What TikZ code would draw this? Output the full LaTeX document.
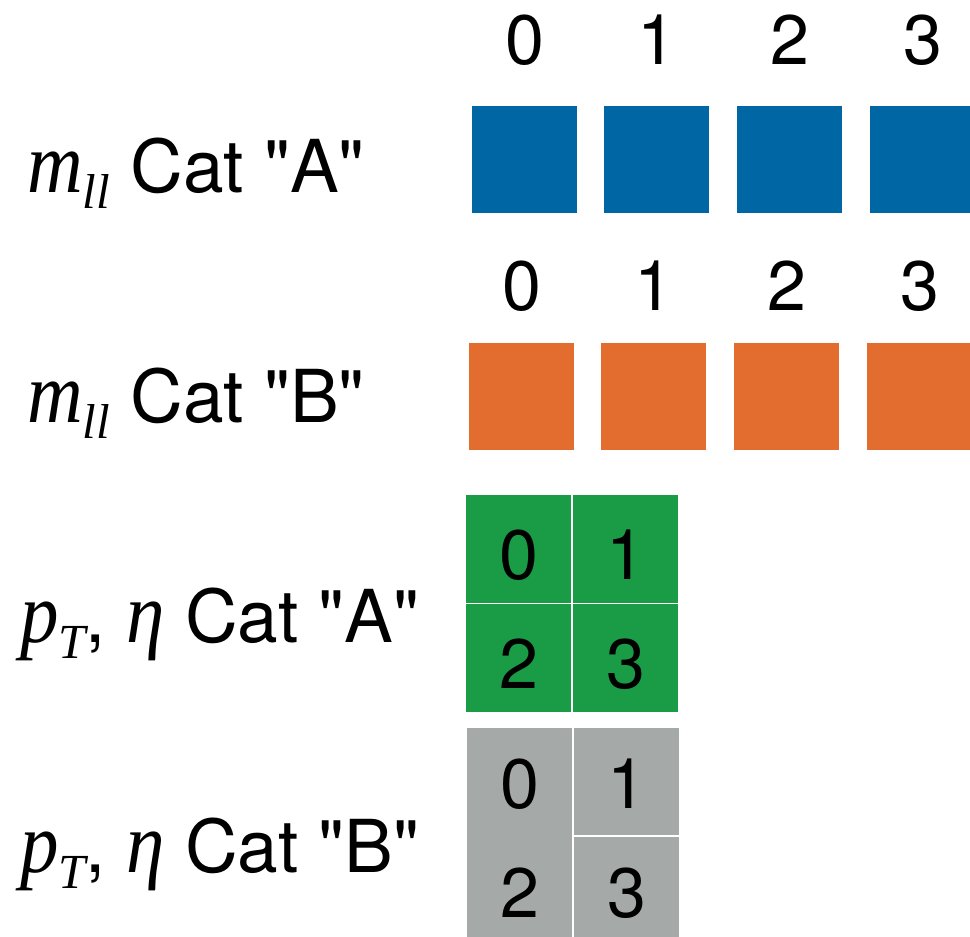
\documentclass[tikz,border=0pt]{standalone}
\usepackage{fontspec}
\newfontfamily\heros{TeX Gyre Heros}
\newfontfamily\timesit{Liberation Serif}
\usetikzlibrary{positioning}

\definecolor{catblue}{RGB}{0,102,164}
\definecolor{catorange}{RGB}{227,108,47}
\definecolor{catgreen}{RGB}{26,155,69}
\definecolor{catgrey}{RGB}{165,169,168}

\newcommand{\mathvar}[1]{\scalebox{1}[1.12]{\fontsize{77}{77}\selectfont\timesit\itshape #1}}
\newcommand{\subsc}[1]{\raisebox{-16pt}{\fontsize{49}{49}\selectfont\timesit\itshape #1}}
\newcommand{\mll}{\mathvar{m}\subsc{ll}}
\newcommand{\pteta}{\mathvar{p}\subsc{T},\ \mathvar{η}}

\begin{document}
\begin{tikzpicture}[x=1pt,y=-1pt,
    cell/.style={minimum width=105pt,minimum height=107pt,inner sep=0pt,outer sep=0pt},
    catlabel/.style={anchor=base west,inner sep=0pt,font=\heros\fontsize{73}{76}\selectfont},
    num/.style={anchor=base,inner sep=0pt,font=\heros\fontsize{70}{72}\selectfont}]
    \clip (0,0) rectangle (970,937);

    % mll categories A
    \node[catlabel] (labmA) at (27,192) {\mll\ Cat "A"};
    \foreach \i/\x in {0/524.5,1/656.5,2/789.5,3/922.5}{
        \node[cell,fill=catblue] (mA\i) at (\x,159.5) {};
        \node[num] (nmA\i) at (\x,64) {\i};
    }

    % mll categories B
    \node[catlabel] (labmB) at (27,422) {\mll\ Cat "B"};
    \foreach \i/\x in {0/521.5,1/653.5,2/786.5,3/919.5}{
        \node[cell,fill=catorange] (mB\i) at (\x,396.5) {};
        \node[num] (nmB\i) at (\x,310) {\i};
    }

    % pT, eta categories A
    \node[catlabel] (labpA) at (20,642) {\pteta\ Cat "A"};
    \foreach \i/\x/\y in {0/518.5/549,1/625.5/549,2/518.5/658,3/625.5/658}{
        \node[cell,minimum height=108pt,fill=catgreen] (pA\i) at (\x,\y) {};
        \node[num] at ([yshift=-30pt]pA\i.center) (npA\i) {\i};
    }

    % pT, eta categories B
    \node[catlabel] (labpB) at (20,872) {\pteta\ Cat "B"};
    \node[cell,minimum height=215pt,fill=catgrey] (pB02) at (519.5,835.5) {};
    \node[cell,fill=catgrey] (pB1) at (626.5,781.5) {};
    \node[cell,fill=catgrey] (pB3) at (626.5,890.5) {};
    \node[num] (npB0) at (519.5,808) {0};
    \node[num] (npB2) at (519.5,917) {2};
    \node[num] (npB1) at (626.5,808) {1};
    \node[num] (npB3) at (626.5,917) {3};
\end{tikzpicture}
\end{document}
